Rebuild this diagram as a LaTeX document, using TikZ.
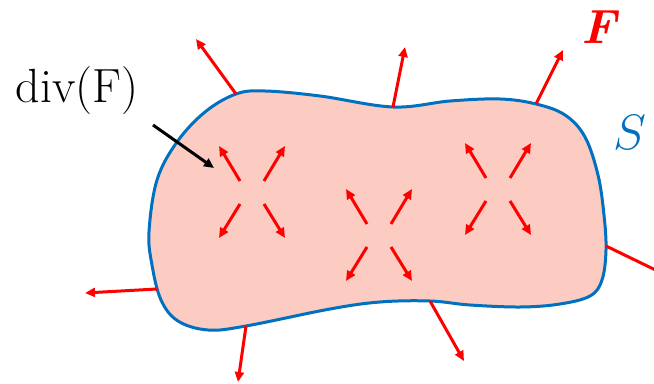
\documentclass[tikz,border=0pt]{standalone}
\usetikzlibrary{arrows.meta}
\definecolor{surfblue}{RGB}{0,112,192}
\definecolor{surffill}{RGB}{252,204,194}
\begin{document}
\begin{tikzpicture}[
    x=0.5pt,
    y=-0.5pt,
    surface/.style={
        draw=surfblue,
        fill=surffill,
        line width=1.5pt
    },
    flux/.style={
        red,
        line width=1.5pt,
        -{Triangle[length=5pt,width=4.5pt]}
    },
    pointer/.style={
        black,
        line width=1.5pt,
        -{Triangle[length=5pt,width=4.5pt]}
    },
    every node/.style={font=\fontsize{24}{28}\selectfont}
]

\clip (0,0) rectangle (654,384);

\draw[surface] plot[smooth cycle,tension=0.6] coordinates {
    (149,232) (157,180) (177,142) (205,112) (236,94) (265,91)
    (320,96) (393,107) (450,101) (500,99) (536,104) (565,115)
    (585,137) (598,175) (604,215) (606,250) (602,280) (590,296)
    (560,304) (521,307) (470,305) (430,301) (380,302) (330,309)
    (246,326) (208,330) (178,321) (161,300) (152,265)};

% flux through S
\coordinate (b1) at (236,94);
\coordinate (b2) at (393,107);
\coordinate (b3) at (536,104);
\coordinate (b4) at (606,246);
\coordinate (b5) at (430,301);
\coordinate (b6) at (246,326);
\coordinate (b7) at (157,289);

\coordinate (o1) at (196,39);
\coordinate (o2) at (405,47);
\coordinate (o3) at (563,50);
\coordinate (o4) at (672,278);
\coordinate (o5) at (464,361);
\coordinate (o6) at (238,382);
\coordinate (o7) at (85,293);

\draw[flux] (b1)--(o1);
\draw[flux] (b2)--(o2);
\draw[flux] (b3)--(o3);
\draw[flux] (b4)--(o4);
\draw[flux] (b5)--(o5);
\draw[flux] (b6)--(o6);
\draw[flux] (b7)--(o7);

% sources inside
\begin{scope}[shift={(252,192)}]
\draw[flux] (-12,-11)--(-33,-46);
\draw[flux] (12,-11)--(33,-46);
\draw[flux] (-12,12)--(-33,46);
\draw[flux] (12,12)--(33,46);
\end{scope}

\begin{scope}[shift={(379,235)}]
\draw[flux] (-12,-11)--(-33,-46);
\draw[flux] (12,-11)--(33,-46);
\draw[flux] (-12,12)--(-33,46);
\draw[flux] (12,12)--(33,46);
\end{scope}

\begin{scope}[shift={(498,189)}]
\draw[flux] (-12,-11)--(-33,-46);
\draw[flux] (12,-11)--(33,-46);
\draw[flux] (-12,12)--(-33,46);
\draw[flux] (12,12)--(33,46);
\end{scope}

\node (divlbl) at (77,91) {div(F)};
\node[text=red] (Flbl) at (600,27) {\textbf{\textit{F}}};
\node[text=surfblue] (Slbl) at (630,133) {$S$};

\coordinate (divtail) at (153,125);
\coordinate (divtip) at (214,168);
\draw[pointer] (divtail)--(divtip);

\end{tikzpicture}
\end{document}
